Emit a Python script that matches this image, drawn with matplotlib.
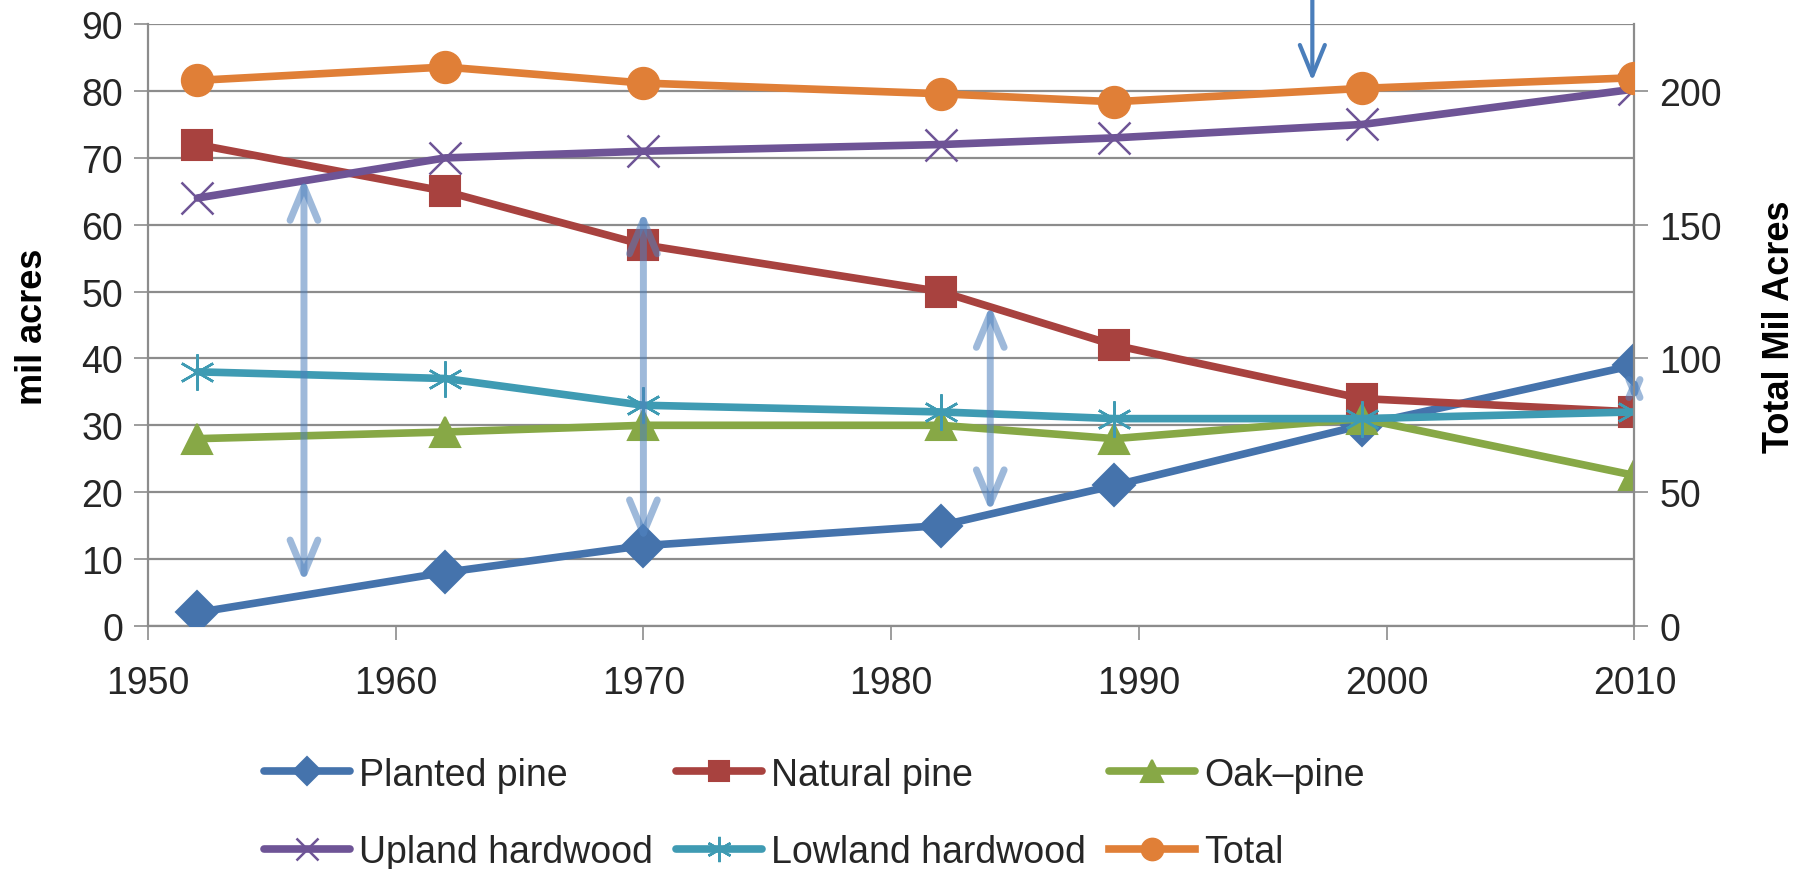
"""forest type acreage trends, 1952-2010."""

import matplotlib
import matplotlib.pyplot as plt

matplotlib.use("Agg")

plt.rcParams["font.family"] = ["Liberation Sans Narrow", "Liberation Sans", "DejaVu Sans"]

years = [1952, 1962, 1970, 1982, 1989, 1999, 2010]
planted_pine = [2, 8, 12, 15, 21, 30, 39]
natural_pine = [72, 65, 57, 50, 42, 34, 32]
oak_pine = [28, 29, 30, 30, 28, 31, 22.5]
upland_hardwood = [64, 70, 71, 72, 73, 75, 80.3]
lowland_hardwood = [38, 37, 33, 32, 31, 31, 32]
total = [204, 209, 203, 199, 196, 201, 205]

# double-headed annotation arrows: (year, low, high) on the left axis
gap_arrows = [(1956.3, 6.5, 67), (1970, 12.5, 62), (1984, 17, 48), (2010, 33.5, 37.5)]
marker_arrow = (1997, 81.5, 94)

GRID = "#8c8c8c"
TXT = "#262626"

fig = plt.figure(figsize=(18.1, 8.7), dpi=100)
ax = fig.add_axes([0.0817, 0.2795, 0.8213, 0.6915])

series = [
    ("Planted pine", planted_pine, "#4573AC", "D", 21, 1.5),
    ("Natural pine", natural_pine, "#A8423F", "s", 21, 1.5),
    ("Oak\u2013pine", oak_pine, "#87A846", "^", 22, 1.5),
    ("Upland hardwood", upland_hardwood, "#6E5496", "x", 23, 1.8),
    ("Lowland hardwood", lowland_hardwood, "#3F9BB3", (6, 2, 0), 26, 1.8),
]

handles = {}
for label, vals, col, mk, ms, mew in series:
    (h,) = ax.plot(years, vals, color=col, lw=5.5, marker=mk, ms=ms,
                   mfc=col, mec=col, mew=mew, label=label, zorder=3,
                   solid_capstyle="round")
    handles[label] = h

for x, lo, hi in gap_arrows:
    scale = 20 if hi - lo > 8 else 8
    ax.annotate("", xy=(x, lo), xytext=(x, hi),
                arrowprops=dict(arrowstyle="<->,head_length=1.2,head_width=0.5",
                                mutation_scale=scale, color="#4F81BD", alpha=0.55,
                                lw=5, shrinkA=0, shrinkB=0), zorder=4)

ax.annotate("", xy=(marker_arrow[0], marker_arrow[1]),
            xytext=(marker_arrow[0], marker_arrow[2]),
            arrowprops=dict(arrowstyle="->,head_length=1.1,head_width=0.45",
                            mutation_scale=20, color="#4A7EBB", lw=3,
                            shrinkA=0, shrinkB=0),
            annotation_clip=False, zorder=5)

ax.set_xlim(1950, 2010)
ax.set_ylim(0, 90)
ax.set_xticks(range(1950, 2011, 10))
ax.set_yticks(range(0, 91, 10))
ax.grid(axis="y", color=GRID, lw=1.6)
ax.set_axisbelow(True)
ax.tick_params(labelsize=27, colors=TXT, length=10, width=1.2,
               color=GRID, pad=18)
ax.tick_params(axis="y", pad=8)
for side in ("left", "bottom"):
    ax.spines[side].set_color(GRID)
    ax.spines[side].set_linewidth(1.6)
ax.spines["top"].set_visible(False)
ax.spines["right"].set_visible(False)

ax2 = ax.twinx()
(h_total,) = ax2.plot(years, total, color="#E07F37", lw=5.5, marker="o", ms=23,
                      mfc="#E07F37", mec="#E07F37", label="Total", zorder=3)
handles["Total"] = h_total
ax2.set_ylim(0, 225)
ax2.set_yticks(range(0, 201, 50))
ax2.tick_params(labelsize=27, colors=TXT, length=10, width=1.2,
                color=GRID, pad=8)
ax2.spines["right"].set_color(GRID)
ax2.spines["right"].set_linewidth(1.6)
for side in ("left", "top", "bottom"):
    ax2.spines[side].set_visible(False)

fig.text(0.0179, 0.624, "mil acres", rotation=90, ha="center", va="center",
         fontsize=26, fontweight="bold", family="Liberation Sans", color="black")
fig.text(0.983, 0.624, "Total Mil Acres", rotation=90, ha="center", va="center",
         fontsize=26, fontweight="bold", family="Liberation Sans", color="black")

# legend filled row by row like the original
order = ["Planted pine", "Upland hardwood", "Natural pine",
         "Lowland hardwood", "Oak\u2013pine", "Total"]
fig.legend([handles[k] for k in order], order, ncol=3, frameon=False,
           loc="upper left", bbox_to_anchor=(0.127, 0.168), fontsize=27,
           handlelength=2.3, handletextpad=0.25, columnspacing=0.6,
           labelspacing=1.1, markerscale=0.7, labelcolor=TXT)

fig.savefig("out.png", dpi=100)
